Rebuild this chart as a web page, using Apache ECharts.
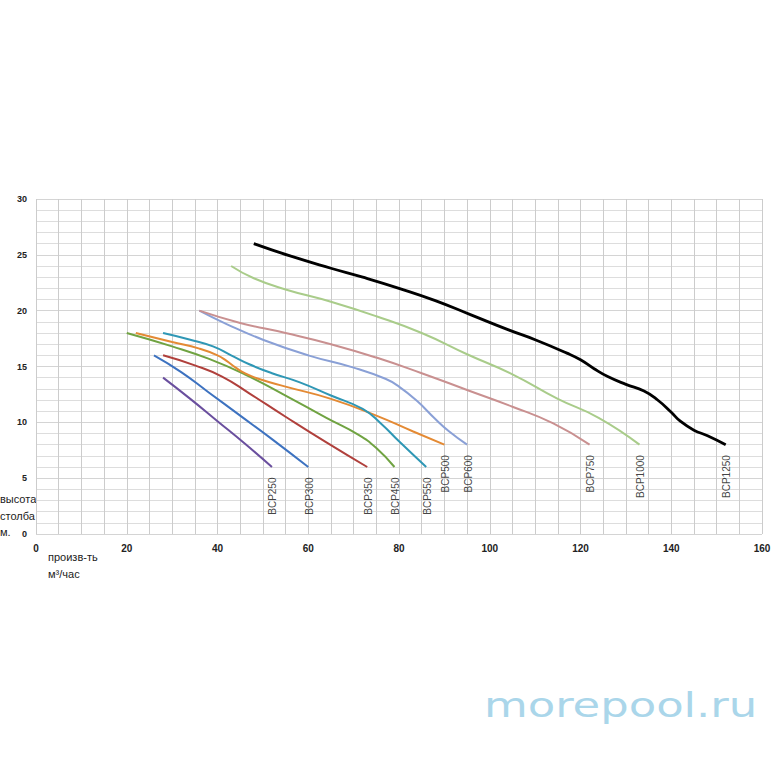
<!DOCTYPE html>
<html>
<head>
<meta charset="utf-8">
<script src="https://cdn.jsdelivr.net/npm/echarts@6/dist/echarts.min.js"></script>
<style>
html,body{margin:0;padding:0;background:#fff;}
#chart{width:777px;height:777px;}
</style>
</head>
<body>
<div id="chart"></div>
<script>
// ---- data (x = производительность м³/час, y = высота столба м.) ----
const seriesNames = ['BCP250','BCP300','BCP350','BCP450','BCP500','BCP550','BCP600','BCP750','BCP1000','BCP1250'];
const bcp250 = [[28,14],[34,12.1],[40,10.1],[46,8.1],[52,6]];
const bcp300 = [[26,16],[32,14.5],[38,12.7],[45,10.6],[52,8.5],[60,6]];
const bcp350 = [[28,16],[35,15.1],[41,14.1],[47,12.6],[55,10.5],[64,8.2],[73,6]];
const bcp450 = [[20,18],[30,16.8],[38,15.7],[46,14.3],[55,12.4],[64,10.4],[71,8.9],[75,7.7],[79,6]];
const bcp500 = [[22,18],[30,17.2],[36,16.6],[40,16],[42,15.5],[44,14.9],[46,14.4],[49,13.9],[55,13.2],[65,12.1],[75,10.6],[83,9.2],[90,8]];
const bcp550 = [[28,18],[34,17.4],[39,16.8],[43,16],[47,15.2],[52,14.4],[58,13.6],[65,12.4],[72,11.2],[76,9.9],[80,8.3],[86,6]];
const bcp600 = [[36,20],[42,18.8],[50,17.4],[60,16],[70,14.9],[77,13.9],[80,13.2],[84,11.9],[88,10.3],[91,9.2],[95,8]];
const bcp750 = [[36,20],[45,18.9],[55,18],[65,17],[75,15.8],[85,14.4],[95,12.9],[105,11.4],[114,9.9],[122,8]];
const bcp1000 = [[43,24],[48,22.9],[55,21.9],[65,20.8],[75,19.5],[85,18],[95,16.1],[105,14.3],[115,12.1],[124,10.4],[133,8]];
const bcp1250 = [[48,26],[56,24.9],[65,23.8],[72,23],[80,22],[88,20.9],[96,19.6],[104,18.3],[110,17.4],[117,16.2],[120,15.6],[123,14.8],[126,14.1],[130,13.4],[134,12.8],[137,12],[140,10.9],[142,10.1],[145,9.3],[148,8.8],[152,8]];
const xTicks = [0,20,40,60,80,100,120,140,160];
const yTicks = [0,5,10,15,20,25,30];
const yAxisTitle = 'высота\nстолба\nм.';
const xAxisTitle = 'произв-ть\nм³/час';
const watermark = 'morepool.ru';

const allData = [bcp250,bcp300,bcp350,bcp450,bcp500,bcp550,bcp600,bcp750,bcp1000,bcp1250];
const colors = ['#6a4f9e','#3d72c0','#b0403c','#70a342','#e48a34','#2f97b5','#8aa0d6','#c99090','#a9cc8a','#000000'];
const widths = [2,2,2,2,2,2,2,2,2,2.8];

const chart = echarts.init(document.getElementById('chart'), null, {renderer:'svg'});
const FONT = "'Liberation Sans', Arial, sans-serif";

const lineSeries = allData.map((d,i)=>({
  name: seriesNames[i], type:'line', data:d, smooth:0.5, showSymbol:false, symbol:'none',
  lineStyle:{color:colors[i], width:widths[i]}, z:3
}));
const labelSeries = {
  type:'scatter', symbolSize:1, itemStyle:{color:'rgba(0,0,0,0)'}, silent:true, z:4,
  data: allData.map((d,i)=>({name:seriesNames[i], value:d[d.length-1]})),
  label:{show:true, formatter:'{b}', position:[1.5,11], rotate:90, align:'right', verticalAlign:'middle',
    fontFamily:FONT, fontSize:10, color:'#111'}
};

chart.setOption({
  animation:false,
  backgroundColor:'#fff',
  grid:{left:36, top:199, width:726, height:335, containLabel:false},
  xAxis:{type:'value', min:0, max:160, interval:20,
    axisLine:{show:false}, axisTick:{show:false},
    axisLabel:{fontFamily:FONT, fontSize:10, fontWeight:'bold', color:'#222', margin:9,
      formatter:(v)=> xTicks.includes(v)? String(v):''},
    splitLine:{show:true, lineStyle:{color:'#cccccc', width:1}},
    minorTick:{show:false, splitNumber:4},
    minorSplitLine:{show:true, lineStyle:{color:'#cccccc', width:1}}
  },
  yAxis:{type:'value', min:0, max:30, interval:5,
    axisLine:{show:false}, axisTick:{show:false},
    axisLabel:{fontFamily:FONT, fontSize:9, fontWeight:'bold', color:'#222', margin:9,
      formatter:(v)=> yTicks.includes(v)? String(v):''},
    splitLine:{show:true, lineStyle:{color:'#d4d4d4', width:1}},
    minorTick:{show:false, splitNumber:5},
    minorSplitLine:{show:true, lineStyle:{color:'#dddddd', width:1}}
  },
  graphic:[
    {type:'text', left:0, top:491, style:{text:yAxisTitle, font:"11px 'Liberation Sans', Arial, sans-serif", fill:'#222', lineHeight:16.5}},
    {type:'text', left:48, top:548, style:{text:xAxisTitle, font:"11px 'Liberation Sans', Arial, sans-serif", fill:'#222', lineHeight:17}},
    {type:'text', x:484, y:689, scaleX:1.36, style:{text:watermark, font:"normal 33px 'DejaVu Sans', sans-serif", fill:'#aad6ea', textVerticalAlign:'top'}}
  ],
  series: lineSeries.concat([labelSeries])
});
</script>
</body>
</html>
